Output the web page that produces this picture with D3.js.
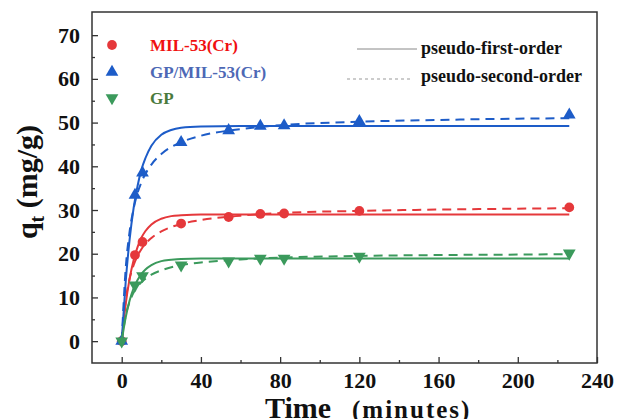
<!DOCTYPE html>
<html>
<head>
<meta charset="utf-8">
<script src="https://cdn.jsdelivr.net/npm/d3@7"></script>
<style>
  body { margin: 0; background: #fff; }
  svg { display: block; font-family: "Liberation Serif", "Times New Roman", serif; }
</style>
</head>
<body>
<svg id="chart" width="617" height="419"></svg>
<script>
// measured points (time in minutes, qt in mg/g)
var times = [0, 6.7, 10.5, 30, 54, 70, 82, 120, 226];
var milPts = [0, 19.7, 22.7, 26.9, 28.4, 29.1, 29.2, 29.8, 30.6];
var gpMilPts = [0, 33.4, 38.5, 45.5, 48.2, 49.2, 49.3, 50.3, 51.8];
var gpPts = [0, 12.8, 14.9, 17.4, 18.3, 18.9, 18.9, 19.4, 20.1];

// fitted curves
var fitTimes1 = [0, 2, 4, 6, 8, 10, 12, 15, 20, 25, 30, 40, 60, 120, 226];
var milFirst = [0, 8.4, 14.3, 18.5, 21.5, 23.7, 25.2, 26.7, 28.0, 28.6, 28.8, 29.0, 29.0, 29.0, 29.0];
var gpMilFirst = [0, 13.5, 23.3, 30.4, 35.5, 39.3, 41.9, 44.7, 47.2, 48.3, 48.8, 49.1, 49.2, 49.2, 49.2];
var gpFirst = [0, 5.4, 9.3, 12.1, 14.0, 15.4, 16.4, 17.4, 18.3, 18.6, 18.8, 18.9, 18.9, 18.9, 18.9];

var fitTimes2 = [0, 2, 4, 6, 8, 10, 15, 20, 30, 40, 60, 80, 120, 160, 200, 226];
var milSecond = [0, 9.3, 14.3, 17.4, 19.5, 21.1, 23.6, 25.1, 26.8, 27.7, 28.7, 29.3, 29.8, 30.1, 30.3, 30.4];
var gpMilSecond = [0, 16.5, 25.1, 30.3, 33.9, 36.4, 40.4, 42.8, 45.5, 47.0, 48.5, 49.4, 50.2, 50.6, 50.9, 51.0];
var gpSecond = [0, 5.8, 9.0, 11.1, 12.5, 13.5, 15.2, 16.2, 17.4, 18.0, 18.7, 19.1, 19.5, 19.7, 19.8, 19.9];

var xTicks = [0, 40, 80, 120, 160, 200, 240];
var yTicks = [0, 10, 20, 30, 40, 50, 60, 70];

var series = [
    { name: "MIL-53(Cr)", pts: milPts, first: milFirst, second: milSecond, color: "#e5383b", text: "#f01010", sym: d3.symbolCircle, rot: 0, size: 75 },
    { name: "GP/MIL-53(Cr)", pts: gpMilPts, first: gpMilFirst, second: gpMilSecond, color: "#1d5cc8", text: "#4d68b5", sym: d3.symbolTriangle, rot: 0, size: 70 },
    { name: "GP", pts: gpPts, first: gpFirst, second: gpSecond, color: "#3b9a5c", text: "#4a7a3c", sym: d3.symbolTriangle, rot: 180, size: 70 }
];

var plotL = 92, plotT = 12, plotR = 597, plotB = 363;

var svg = d3.select("#chart");

var x = d3.scaleLinear().domain([-15, 240]).range([plotL, plotR]);
var y = d3.scaleLinear().domain([-5, 75.3]).range([plotB, plotT]);

// axes, ticks inward
var xAxis = d3.axisBottom(x).tickValues(xTicks).tickSize(-6).tickPadding(9);
var xMinor = d3.axisBottom(x).tickValues([20, 60, 100, 140, 180, 220]).tickSize(-3).tickFormat("");
var yAxis = d3.axisLeft(y).tickValues(yTicks).tickSize(-6).tickPadding(12);
var yMinor = d3.axisLeft(y).tickValues([5, 15, 25, 35, 45, 55, 65]).tickSize(-3).tickFormat("");

function styleAxis(g) {
    g.select(".domain").remove();
    g.selectAll(".tick line").attr("stroke", "#333").attr("stroke-width", 1.3);
    g.selectAll("text")
        .attr("font-family", "Liberation Serif, Times New Roman, serif")
        .attr("font-weight", "bold")
        .attr("font-size", 22)
        .attr("fill", "#111");
}

svg.append("g").attr("transform", "translate(0," + plotB + ")").call(xAxis).call(styleAxis);
svg.append("g").attr("transform", "translate(0," + plotB + ")").call(xMinor).call(styleAxis);
svg.append("g").attr("transform", "translate(" + plotL + ",0)").call(yAxis).call(styleAxis);
svg.append("g").attr("transform", "translate(" + plotL + ",0)").call(yMinor).call(styleAxis);

svg.append("rect")
    .attr("x", plotL).attr("y", plotT)
    .attr("width", plotR - plotL).attr("height", plotB - plotT)
    .attr("fill", "none").attr("stroke", "#333").attr("stroke-width", 1.5);

var line = d3.line().curve(d3.curveMonotoneX);

series.forEach(function(s) {
    var first = fitTimes1.map(function(t, i) { return [x(t), y(s.first[i])]; });
    var second = fitTimes2.map(function(t, i) { return [x(t), y(s.second[i])]; });

    svg.append("path").attr("d", line(second))
        .attr("fill", "none").attr("stroke", s.color).attr("stroke-width", 2)
        .attr("stroke-dasharray", "9,6");
    svg.append("path").attr("d", line(first))
        .attr("fill", "none").attr("stroke", s.color).attr("stroke-width", 2);

    svg.append("g").selectAll("path")
        .data(times)
        .enter()
        .append("path")
        .attr("d", d3.symbol().type(s.sym).size(s.size))
        .attr("fill", s.color)
        .attr("transform", function(t, i) {
            return "translate(" + x(t) + "," + y(s.pts[i]) + ") rotate(" + s.rot + ")";
        });
});

// marker legend
series.forEach(function(s, i) {
    var ly = [45, 72, 98][i];
    svg.append("path")
        .attr("d", d3.symbol().type(s.sym).size(s.size))
        .attr("fill", s.color)
        .attr("transform", "translate(112," + ly + ") rotate(" + s.rot + ")");
    svg.append("text")
        .attr("x", 150).attr("y", ly + 6)
        .attr("font-size", 17).attr("font-weight", "bold")
        .attr("fill", s.text)
        .text(s.name);
});

// line legend
svg.append("line").attr("x1", 357).attr("x2", 417).attr("y1", 49).attr("y2", 49)
    .attr("stroke", "#888").attr("stroke-width", 1);
svg.append("text").attr("x", 421).attr("y", 54)
    .attr("font-size", 18).attr("font-weight", "bold").attr("fill", "#111")
    .text("pseudo-first-order");
svg.append("line").attr("x1", 347).attr("x2", 412).attr("y1", 79).attr("y2", 79)
    .attr("stroke", "#999").attr("stroke-width", 1).attr("stroke-dasharray", "3,3");
svg.append("text").attr("x", 421).attr("y", 82)
    .attr("font-size", 18).attr("font-weight", "bold").attr("fill", "#111")
    .text("pseudo-second-order");

// axis titles
var yt = svg.append("text")
    .attr("transform", "translate(37,182) rotate(-90)")
    .attr("text-anchor", "middle")
    .attr("font-size", 30).attr("font-weight", "bold").attr("fill", "#111");
yt.append("tspan").text("q");
yt.append("tspan").attr("font-size", 20).attr("dy", 7).text("t");
yt.append("tspan").attr("dy", -7).text(" (mg/g)");

svg.append("text")
    .attr("x", 265).attr("y", 418)
    .attr("font-size", 30).attr("font-weight", "bold").attr("fill", "#111")
    .text("Time");
svg.append("text")
    .attr("x", 352).attr("y", 418)
    .attr("font-size", 25).attr("font-weight", "bold").attr("fill", "#111")
    .attr("letter-spacing", 2)
    .text("(minutes)");
</script>
</body>
</html>
